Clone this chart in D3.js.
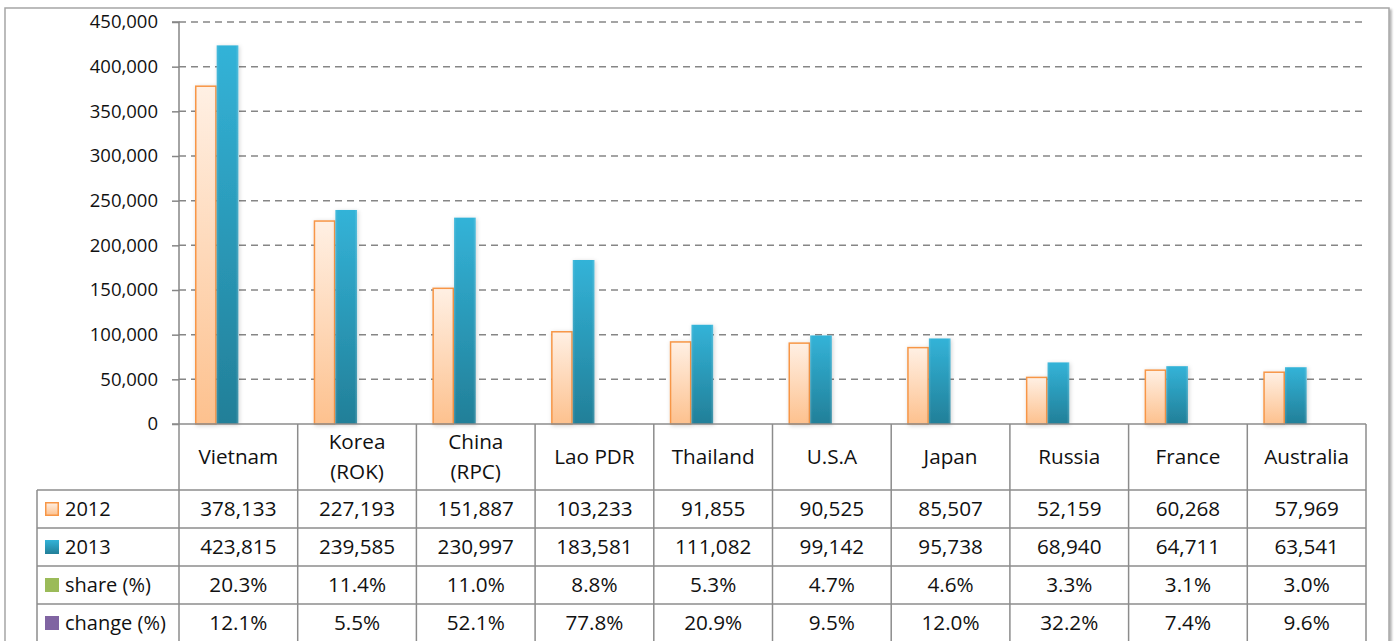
<!DOCTYPE html>
<html>
<head>
<meta charset="utf-8">
<script src="https://cdn.jsdelivr.net/npm/d3@7"></script>
<style>
  html, body { margin: 0; padding: 0; background: #fff; }
  svg { display: block; }
  text { font-family: "Open Sans", "Liberation Sans", sans-serif; fill: #111; }
</style>
</head>
<body>
<script>
// ---- data ----
const categories = [["Vietnam"], ["Korea", "(ROK)"], ["China", "(RPC)"], ["Lao PDR"], ["Thailand"], ["U.S.A"], ["Japan"], ["Russia"], ["France"], ["Australia"]];
const values2012 = [378133, 227193, 151887, 103233, 91855, 90525, 85507, 52159, 60268, 57969];
const values2013 = [423815, 239585, 230997, 183581, 111082, 99142, 95738, 68940, 64711, 63541];
const shareValues = [20.3, 11.4, 11.0, 8.8, 5.3, 4.7, 4.6, 3.3, 3.1, 3.0];
const changeValues = [12.1, 5.5, 52.1, 77.8, 20.9, 9.5, 12.0, 32.2, 7.4, 9.6];
const seriesNames = ["2012", "2013", "share (%)", "change (%)"];
const yTicks = [0, 50000, 100000, 150000, 200000, 250000, 300000, 350000, 400000, 450000];

(function () {
const W = 1395, H = 641;
const pLeft = 179, pRight = 1366, pTop = 22, base = 424;
const rowLines = [490, 528, 566, 604, 642];
const legendLeft = 37;

const svg = d3.select("body").append("svg").attr("width", W).attr("height", H);
const defs = svg.append("defs");

const g12 = defs.append("linearGradient").attr("id", "g12").attr("x1", 0).attr("y1", 0).attr("x2", 0).attr("y2", 1);
g12.append("stop").attr("offset", "0%").attr("stop-color", "#FFF0E4");
g12.append("stop").attr("offset", "100%").attr("stop-color", "#FDC18E");
const g13 = defs.append("linearGradient").attr("id", "g13").attr("x1", 0).attr("y1", 0).attr("x2", 0).attr("y2", 1);
g13.append("stop").attr("offset", "0%").attr("stop-color", "#33B3D8");
g13.append("stop").attr("offset", "100%").attr("stop-color", "#227F98");
const g13h = defs.append("linearGradient").attr("id", "g13h").attr("x1", 0).attr("y1", 0).attr("x2", 1).attr("y2", 0);
g13h.append("stop").attr("offset", "0%").attr("stop-color", "#ffffff").attr("stop-opacity", 0.12);
g13h.append("stop").attr("offset", "12%").attr("stop-color", "#ffffff").attr("stop-opacity", 0);
g13h.append("stop").attr("offset", "88%").attr("stop-color", "#ffffff").attr("stop-opacity", 0);
g13h.append("stop").attr("offset", "100%").attr("stop-color", "#ffffff").attr("stop-opacity", 0.18);

const shadow = defs.append("filter").attr("id", "sh").attr("x", "-50%").attr("y", "-10%").attr("width", "200%").attr("height", "120%");
shadow.append("feDropShadow").attr("dx", 1).attr("dy", 1).attr("stdDeviation", 2).attr("flood-color", "#000").attr("flood-opacity", 0.18);

const frameSh = defs.append("filter").attr("id", "fsh").attr("x", "-5%").attr("y", "-5%").attr("width", "110%").attr("height", "110%");
frameSh.append("feDropShadow").attr("dx", 2).attr("dy", 2).attr("stdDeviation", 1.2).attr("flood-color", "#000").attr("flood-opacity", 0.3);

// outer frame
svg.append("rect").attr("x", 5).attr("y", 8).attr("width", 1384).attr("height", 700)
  .attr("fill", "#fff").attr("stroke", "#A6A6A6").attr("stroke-width", 1.5).attr("filter", "url(#fsh)");

// scales
const y = d3.scaleLinear().domain([0, 450000]).range([base, pTop]);
const x0 = d3.scaleBand().domain(d3.range(categories.length)).range([pLeft, pRight]).padding(0);
const gapHalf = 16;
const x1 = d3.scaleBand().domain(seriesNames).range([gapHalf, x0.bandwidth() - gapHalf]).padding(0);

// gridlines
svg.append("g").selectAll("line").data(yTicks.filter(d => d > 0)).join("line")
  .attr("x1", pLeft).attr("x2", pRight)
  .attr("y1", d => y(d)).attr("y2", d => y(d))
  .attr("stroke", "#868686").attr("stroke-width", 1.5).attr("stroke-dasharray", "7,5");

// y axis
const yAxis = d3.axisLeft(y).tickValues(yTicks).tickSize(7).tickPadding(14).tickFormat(d3.format(","));
const ya = svg.append("g").attr("transform", `translate(${pLeft},0)`).call(yAxis);
ya.select(".domain").attr("stroke", "#868686").attr("stroke-width", 1.5).attr("d", `M-7,${pTop}H0V${base}`);
ya.selectAll(".tick line").attr("stroke", "#868686").attr("stroke-width", 1.5);
ya.selectAll(".tick text").style("font-family", '"Open Sans", sans-serif').style("font-size", "18.5px").attr("fill", "#111");

// bars
const barData = [];
categories.forEach((c, i) => {
  barData.push({ i, s: "2012", v: values2012[i] });
  barData.push({ i, s: "2013", v: values2013[i] });
  barData.push({ i, s: "share (%)", v: shareValues[i] });
  barData.push({ i, s: "change (%)", v: changeValues[i] });
});
const bars = svg.append("g");
bars.selectAll("rect.b12").data(barData.filter(d => d.s === "2012")).join("rect")
  .attr("x", d => x0(d.i) + x1(d.s) + 0.75).attr("width", x1.bandwidth() - 1.5)
  .attr("y", d => y(d.v)).attr("height", d => base - y(d.v))
  .attr("fill", "url(#g12)").attr("stroke", "#F79646").attr("stroke-width", 1.5).attr("filter", "url(#sh)");
bars.selectAll("rect.b13").data(barData.filter(d => d.s === "2013")).join("rect")
  .attr("x", d => x0(d.i) + x1(d.s)).attr("width", x1.bandwidth())
  .attr("y", d => y(d.v)).attr("height", d => base - y(d.v))
  .attr("fill", "url(#g13)").attr("filter", "url(#sh)");
bars.selectAll("rect.b13h").data(barData.filter(d => d.s === "2013")).join("rect")
  .attr("x", d => x0(d.i) + x1(d.s)).attr("width", x1.bandwidth())
  .attr("y", d => y(d.v)).attr("height", d => base - y(d.v))
  .attr("fill", "url(#g13h)");
bars.selectAll("rect.bs").data(barData.filter(d => d.s === "share (%)")).join("rect")
  .attr("x", d => x0(d.i) + x1(d.s)).attr("width", x1.bandwidth())
  .attr("y", d => y(d.v)).attr("height", d => base - y(d.v)).attr("fill", "#9BBB59");
bars.selectAll("rect.bc").data(barData.filter(d => d.s === "change (%)")).join("rect")
  .attr("x", d => x0(d.i) + x1(d.s)).attr("width", x1.bandwidth())
  .attr("y", d => y(d.v)).attr("height", d => base - y(d.v)).attr("fill", "#8064A2");

// data table
const tbl = svg.append("g");
const lineColor = "#8C8C8C";
tbl.append("line").attr("x1", pLeft - 7).attr("x2", pRight).attr("y1", base).attr("y2", base)
  .attr("stroke", lineColor).attr("stroke-width", 1.5);
tbl.selectAll("line.h").data(rowLines).join("line")
  .attr("x1", legendLeft).attr("x2", pRight).attr("y1", d => d).attr("y2", d => d)
  .attr("stroke", lineColor).attr("stroke-width", 1.5);
const colEdges = d3.range(categories.length + 1).map(i => i < categories.length ? x0(i) : pRight);
tbl.selectAll("line.v").data(colEdges).join("line")
  .attr("x1", d => d).attr("x2", d => d).attr("y1", base).attr("y2", H + 2)
  .attr("stroke", lineColor).attr("stroke-width", 1.5);
tbl.append("line").attr("x1", legendLeft).attr("x2", legendLeft).attr("y1", rowLines[0]).attr("y2", H + 2)
  .attr("stroke", lineColor).attr("stroke-width", 1.5);

// header text
const fs = 20.7;
const hdr = tbl.selectAll("text.hdr").data(categories.map((c, i) => ({ c, i }))).join("text")
  .attr("text-anchor", "middle").style("font-size", fs + "px");
hdr.each(function(d) {
  const t = d3.select(this);
  const cx = x0(d.i) + x0.bandwidth() / 2;
  const mid = (base + rowLines[0]) / 2;
  const n = d.c.length;
  const lh = 30;
  d.c.forEach((line, k) => {
    t.append("tspan").attr("x", cx).attr("y", mid + 7 + (k - (n - 1) / 2) * lh).text(line);
  });
});

// rows
const rowData = [
  { name: "2012", vals: values2012.map(d3.format(",")) },
  { name: "2013", vals: values2013.map(d3.format(",")) },
  { name: "share (%)", vals: shareValues.map(v => v.toFixed(1) + "%") },
  { name: "change (%)", vals: changeValues.map(v => v.toFixed(1) + "%") }
];
rowData.forEach((r, ri) => {
  const cy = (rowLines[ri] + rowLines[ri + 1]) / 2;
  tbl.selectAll("text.r" + ri).data(r.vals).join("text")
    .attr("x", (d, i) => x0(i) + x0.bandwidth() / 2).attr("y", cy + 7)
    .attr("text-anchor", "middle").style("font-size", fs + "px").text(d => d);
  tbl.append("text").attr("x", 65).attr("y", cy + 7).style("font-size", "20px").text(r.name);
  const key = tbl.append("rect").attr("x", 45).attr("y", cy - 7).attr("width", 14).attr("height", 14);
  if (ri === 0) key.attr("x", 45.75).attr("y", cy - 6.25).attr("width", 12.5).attr("height", 12.5).attr("fill", "url(#g12)").attr("stroke", "#F79646").attr("stroke-width", 1.5);
  else if (ri === 1) key.attr("fill", "url(#g13)");
  else if (ri === 2) key.attr("fill", "#9BBB59");
  else key.attr("fill", "#8064A2");
});
})();
</script>
</body>
</html>
